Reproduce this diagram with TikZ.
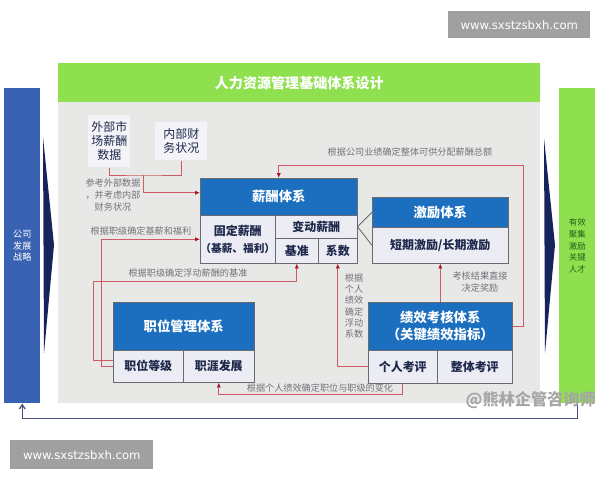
\documentclass[tikz,border=0pt]{standalone}
\usepackage{fontspec}
\setmainfont{Noto Sans CJK SC}
\newfontfamily\urlfont{DejaVu Sans}
\usepackage{tikz}
\usetikzlibrary{positioning}
\usetikzlibrary{calc,arrows.meta}

\definecolor{HeadBlue}{RGB}{28,110,190}
\definecolor{CellFill}{RGB}{236,236,244}
\definecolor{CellLine}{RGB}{105,105,110}
\definecolor{CellText}{RGB}{30,40,75}
\definecolor{PanelGray}{RGB}{232,232,230}
\definecolor{TitleGreen}{RGB}{143,224,78}
\definecolor{BarBlue}{RGB}{58,98,178}
\definecolor{BarText}{RGB}{35,95,25}
\definecolor{LinkRed}{RGB}{205,90,100}
\definecolor{TipRed}{RGB}{170,20,40}
\definecolor{NoteGray}{RGB}{115,115,125}
\definecolor{ArrowNavy}{RGB}{22,35,92}
\definecolor{FeedNavy}{RGB}{70,80,125}
\definecolor{UrlGray}{RGB}{160,160,160}

\newlength\pxu
\setlength\pxu{0.025cm}

\newcommand\headfont{\fontsize{9.5}{12}\selectfont\bfseries}
\newcommand\cellfont{\fontsize{8.5}{12}\selectfont\bfseries}
\newcommand\notefont{\fontsize{6.5}{8.5}\selectfont}

\tikzset{
	plainbox/.style={rectangle, inner sep=0pt, anchor=north west, align=center},
	headbox/.style={plainbox, draw=CellLine, fill=HeadBlue, text=white, font=\headfont},
	cellbox/.style={plainbox, draw=CellLine, fill=CellFill, text=CellText, font=\cellfont},
	databox/.style={plainbox, fill=CellFill!60!white, text=CellText, font=\fontsize{8.5}{10}\selectfont},
	redline/.style={draw=LinkRed, line width=0.6pt},
	redarrow/.style={redline, -{Latex[length=3.5pt,width=3pt,color=TipRed]}},
	note/.style={text=NoteGray, font=\notefont, inner sep=1pt, align=center},
	urlbox/.style={plainbox, fill=UrlGray, text=white, font=\urlfont\fontsize{8.3}{10}\selectfont},
}

\begin{document}
\begin{tikzpicture}[x=0.025cm, y=-0.025cm]

	% ------------------------------------------------
	% Ensure the dimensions of graphic are appropriate
	\useasboundingbox (0,0) rectangle (600,480);

	% ------------------------------------------------
	% Frame: panel, title and side bars
	\node[plainbox, fill=PanelGray, minimum width=482\pxu, minimum height=301\pxu] (Panel) at (58,102) {};
	\node[plainbox, fill=TitleGreen, text=white, font=\fontsize{10}{12}\selectfont\bfseries,
		minimum width=482\pxu, minimum height=39\pxu] (TitleBar) at (58,63) {人力资源管理基础体系设计};

	\node[plainbox, fill=BarBlue, text=white, font=\fontsize{6.5}{8}\selectfont,
		minimum width=36\pxu, minimum height=315\pxu] (LeftBar) at (4,88) {公司\\发展\\战略};
	\node[plainbox, fill=TitleGreen, text=BarText, font=\fontsize{6}{8.5}\selectfont,
		minimum width=36\pxu, minimum height=315\pxu] (RightBar) at (559,88) {有效\\聚集\\激励\\关键\\人才};

	\fill[ArrowNavy] (43,137) -- (54,245) -- (44,353) -- cycle;
	\fill[ArrowNavy] (544,138) -- (555,245) -- (545,353) -- cycle;

	% ----------------
	% Source data
	\node[databox, minimum width=42\pxu, minimum height=52\pxu] (ExtData) at (88,115) {外部市\\场薪酬\\数据};
	\node[databox, minimum width=52\pxu, minimum height=38\pxu] (IntFin) at (155,122) {内部财\\务状况};

	% ----------------
	% Salary system
	\node[headbox, minimum width=157\pxu, minimum height=37\pxu] (SalHead) at (200,178) {薪酬体系};
	\node[cellbox, minimum width=75\pxu, minimum height=48\pxu] (SalFix) at (200,215)
		{固定薪酬\\\fontsize{7.6}{12}\selectfont（基薪、福利）};
	\node[cellbox, minimum width=82\pxu, minimum height=23\pxu] (SalVar) at (275,215) {变动薪酬};
	\node[cellbox, minimum width=43\pxu, minimum height=25\pxu] (SalBase) at (275,238) {基准};
	\node[cellbox, minimum width=39\pxu, minimum height=25\pxu] (SalCoef) at (318,238) {系数};

	% ----------------
	% Incentive system
	\node[headbox, minimum width=136\pxu, minimum height=30\pxu] (IncHead) at (372,197) {激励体系};
	\node[cellbox, minimum width=136\pxu, minimum height=36\pxu] (IncBody) at (372,227) {短期激励/长期激励};

	% ----------------
	% Performance system
	\node[headbox, minimum width=144\pxu, minimum height=48\pxu] (PerfHead) at (368,302) {绩效考核体系\\（关键绩效指标）};
	\node[cellbox, minimum width=69\pxu, minimum height=33\pxu] (PerfInd) at (368,350) {个人考评};
	\node[cellbox, minimum width=75\pxu, minimum height=33\pxu] (PerfAll) at (437,350) {整体考评};

	% ----------------
	% Position system
	\node[headbox, minimum width=141\pxu, minimum height=48\pxu] (PosHead) at (113,302) {职位管理体系};
	\node[cellbox, minimum width=70\pxu, minimum height=32\pxu] (PosGrade) at (113,350) {职位等级};
	\node[cellbox, minimum width=71\pxu, minimum height=32\pxu] (PosCareer) at (183,350) {职涯发展};

	% ------------------------------------------------
	% Links
	\coordinate (DataJoin) at (143,175);
	\coordinate (TopRight) at (523,165);

	\draw[redline] (ExtData.south) |- (DataJoin) -| (IntFin.south);
	\draw[redarrow] (DataJoin) |- ($(SalHead.west)+(0,-4)$);
	\draw[redarrow] (PerfHead.east) -| (TopRight) -| (SalHead.north);
	\draw[redarrow] (PerfHead.north) -- (IncBody.south);
	\draw[redarrow] (PerfInd.west) -| (SalCoef.south);
	\draw[redarrow] (PosGrade.west) -- ++(-12,0) |- (SalFix.west);
	\draw[redarrow] ($(PosGrade.west)+(0,-6)$) -- ++(-20,0) |- ($(SalBase.south)+(0,18)$) -- (SalBase.south);
	\draw[redarrow] (PerfInd.south) -- ++(0,11) -| (PosCareer.south);

	\draw[CellLine, line width=0.6pt] (IncHead.west) -- (SalVar.east) -- (IncBody.west);

	\draw[FeedNavy, line width=0.9pt, -{Straight Barb[length=3pt,width=4pt]}]
		(RightBar.south) -- ++(0,15) -| (LeftBar.south);

	% ----------------
	% Link labels
	\node[note] (NoteData) at (113,195) {参考外部数据\\，并考虑内部\\财务状况};
	\node[note] (NoteTotal) at (410,152) {根据公司业绩确定整体可供分配薪酬总额};
	\node[note] (NoteReward) at (480,282) {考核结果直接\\决定奖励};
	\node[note, font=\fontsize{6.5}{8}\selectfont] (NoteCoef) at (354,306) {根据\\个人\\绩效\\确定\\浮动\\系数};
	\node[note] (NoteFix) at (141,231) {根据职级确定基薪和福利};
	\node[note] (NoteBase) at (188,273) {根据职级确定浮动薪酬的基准};
	\node[note] (NoteCareer) at (320,388) {根据个人绩效确定职位与职级的变化};

	% ------------------------------------------------
	% Watermarks
	\node[urlbox, minimum width=142\pxu, minimum height=27\pxu] (UrlTop) at (448,11) {www.sxstzsbxh.com};
	\node[urlbox, minimum width=143\pxu, minimum height=29\pxu] (UrlBot) at (10,440) {www.sxstzsbxh.com};
	\node[anchor=east, inner sep=0pt, text=gray!70, font=\fontsize{11.5}{12}\selectfont\bfseries] (Mark) at (596,400) {@熊林企管咨询师};

\end{tikzpicture}
\end{document}
